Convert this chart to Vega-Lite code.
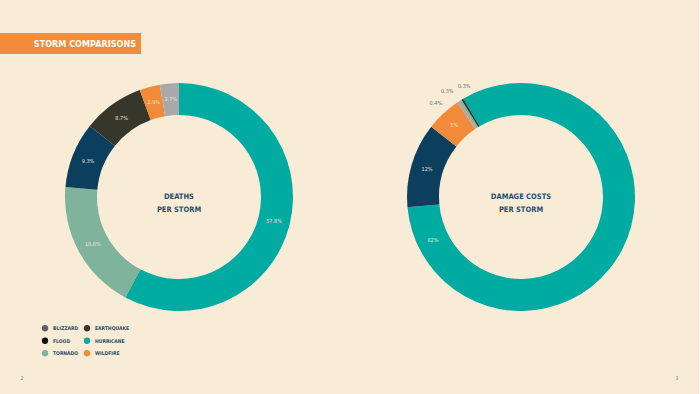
{
  "$schema": "https://vega.github.io/schema/vega-lite/v6.json",
  "background": "#f8ecd6",
  "padding": {"left": 0, "top": 33, "right": 0, "bottom": 0},
  "spacing": 23,
  "config": {
    "view": {"stroke": null},
    "font": "DejaVu Sans Condensed, sans-serif"
  },
  "datasets": {
    "deaths": [
      {"storm": "HURRICANE", "value": 57.8, "label": "57.8%"},
      {"storm": "TORNADO", "value": 18.6, "label": "18.6%"},
      {"storm": "FLOOD", "value": 9.3, "label": "9.3%"},
      {"storm": "EARTHQUAKE", "value": 8.7, "label": "8.7%"},
      {"storm": "WILDFIRE", "value": 2.9, "label": "2.9%"},
      {"storm": "BLIZZARD", "value": 2.7, "label": "2.7%"}
    ],
    "damage": [
      {"storm": "HURRICANE", "value": 82, "label": "82%"},
      {"storm": "FLOOD", "value": 12, "label": "12%"},
      {"storm": "WILDFIRE", "value": 5, "label": "5%"},
      {"storm": "BLIZZARD", "value": 0.4, "label": "0.4%"},
      {"storm": "TORNADO", "value": 0.3, "label": "0.3%"},
      {"storm": "EARTHQUAKE", "value": 0.3, "label": "0.3%"}
    ],
    "legendItems": [
      {"storm": "BLIZZARD", "column": "left"},
      {"storm": "EARTHQUAKE", "column": "right"},
      {"storm": "FLOOD", "column": "left"},
      {"storm": "HURRICANE", "column": "right"},
      {"storm": "TORNADO", "column": "left"},
      {"storm": "WILDFIRE", "column": "right"}
    ]
  },
  "vconcat": [
    {
      "width": 141,
      "height": 21,
      "view": {"fill": "#f28c38", "stroke": null},
      "data": {"values": [{"t": "STORM COMPARISONS"}]},
      "mark": {"type": "text", "align": "right", "baseline": "middle", "dx": -5, "fontSize": 9, "fontWeight": "bold", "color": "#ffffff"},
      "encoding": {
        "x": {"datum": 1, "type": "quantitative", "scale": {"domain": [0, 1], "nice": false}, "axis": null},
        "text": {"field": "t"}
      }
    },
    {
      "spacing": 15,
      "vconcat": [
        {
          "hconcat": [
            {
              "vconcat": [
                {
                  "width": 358,
                  "height": 240,
                  "data": {"name": "deaths"},
                  "layer": [
                    {
                      "mark": {"type": "arc", "innerRadius": 82, "outerRadius": 114},
                      "encoding": {
                        "theta": {"field": "value", "type": "quantitative", "stack": true},
                        "order": {"field": "value", "sort": "descending"},
                        "color": {
                          "field": "storm", "type": "nominal",
                          "scale": {
                            "domain": ["BLIZZARD", "EARTHQUAKE", "FLOOD", "HURRICANE", "TORNADO", "WILDFIRE"],
                            "range": ["#a9a9ab", "#37362b", "#0c3e5d", "#00aba2", "#80b39b", "#f28b39"]
                          },
                          "legend": null
                        }
                      }
                    },
                    {
                      "mark": {"type": "text", "radius": 98, "fontSize": 5.5, "color": "#efe6cf", "baseline": "middle"},
                      "encoding": {
                        "theta": {"field": "value", "type": "quantitative", "stack": true},
                        "order": {"field": "value", "sort": "descending"},
                        "text": {"field": "label"}
                      }
                    },
                    {
                      "data": {"values": [{"c": "DEATHS\nPER STORM"}]},
                      "mark": {"type": "text", "lineBreak": "\n", "lineHeight": 13, "fontSize": 7.5, "fontWeight": "bold", "color": "#1d4f6e", "baseline": "middle"},
                      "encoding": {"text": {"field": "c"}}
                    }
                  ]
                },
                {
                  "hconcat": [
                    {
                      "width": 40.5,
                      "height": 37.5,
                      "data": {"values": [{"t": ""}]},
                      "mark": {"type": "text"},
                      "encoding": {"text": {"field": "t"}}
                    },
                    {
                      "width": 37.5,
                      "height": 37.5,
                      "data": {"name": "legendItems"},
                      "transform": [{"filter": "datum.column === 'left'"}],
                      "layer": [
                        {
                          "mark": {"type": "point", "filled": true, "size": 40, "opacity": 1, "strokeWidth": 0},
                          "encoding": {
                            "x": {"datum": 0, "type": "quantitative", "scale": {"domain": [0, 1], "nice": false}, "axis": null},
                            "y": {"field": "storm", "type": "ordinal", "scale": {"paddingInner": 0, "paddingOuter": 0}, "axis": null},
                            "fill": {
                              "field": "storm", "type": "nominal",
                              "scale": {
                                "domain": ["BLIZZARD", "EARTHQUAKE", "FLOOD", "HURRICANE", "TORNADO", "WILDFIRE"],
                                "range": ["#606166", "#37362b", "#0a0a0a", "#00aba2", "#80b39b", "#f28b39"]
                              },
                              "legend": null
                            }
                          }
                        },
                        {
                          "mark": {"type": "text", "align": "left", "baseline": "middle", "dx": 8, "fontSize": 5, "fontWeight": "bold", "color": "#2a4f66"},
                          "encoding": {
                            "x": {"datum": 0, "type": "quantitative", "scale": {"domain": [0, 1], "nice": false}, "axis": null},
                            "y": {"field": "storm", "type": "ordinal", "scale": {"paddingInner": 0, "paddingOuter": 0}, "axis": null},
                            "text": {"field": "storm"}
                          }
                        }
                      ]
                    },
                    {
                      "width": 43,
                      "height": 37.5,
                      "data": {"name": "legendItems"},
                      "transform": [{"filter": "datum.column === 'right'"}],
                      "layer": [
                        {
                          "mark": {"type": "point", "filled": true, "size": 40, "opacity": 1, "strokeWidth": 0},
                          "encoding": {
                            "x": {"datum": 0, "type": "quantitative", "scale": {"domain": [0, 1], "nice": false}, "axis": null},
                            "y": {"field": "storm", "type": "ordinal", "scale": {"paddingInner": 0, "paddingOuter": 0}, "axis": null},
                            "fill": {
                              "field": "storm", "type": "nominal",
                              "scale": {
                                "domain": ["BLIZZARD", "EARTHQUAKE", "FLOOD", "HURRICANE", "TORNADO", "WILDFIRE"],
                                "range": ["#606166", "#37362b", "#0a0a0a", "#00aba2", "#80b39b", "#f28b39"]
                              },
                              "legend": null
                            }
                          }
                        },
                        {
                          "mark": {"type": "text", "align": "left", "baseline": "middle", "dx": 8, "fontSize": 5, "fontWeight": "bold", "color": "#2a4f66"},
                          "encoding": {
                            "x": {"datum": 0, "type": "quantitative", "scale": {"domain": [0, 1], "nice": false}, "axis": null},
                            "y": {"field": "storm", "type": "ordinal", "scale": {"paddingInner": 0, "paddingOuter": 0}, "axis": null},
                            "text": {"field": "storm"}
                          }
                        }
                      ]
                    }
                  ],
                  "spacing": 0
                }
              ],
              "spacing": 5
            },
            {
              "width": 326,
              "height": 240,
              "data": {"name": "damage"},
              "resolve": {"scale": {"theta": "independent"}},
              "layer": [
                {
                  "layer": [
                    {
                      "mark": {"type": "arc", "innerRadius": 82, "outerRadius": 114},
                      "encoding": {
                        "theta": {"field": "value", "type": "quantitative", "stack": true, "scale": {"range": [-0.53, 5.7532]}},
                        "order": {"field": "value", "sort": "descending"},
                        "color": {
                          "field": "storm", "type": "nominal",
                          "scale": {
                            "domain": ["BLIZZARD", "EARTHQUAKE", "FLOOD", "HURRICANE", "TORNADO", "WILDFIRE"],
                            "range": ["#a9a9ab", "#37362b", "#0c3e5d", "#00aba2", "#80b39b", "#f28b39"]
                          },
                          "legend": null
                        }
                      }
                    },
                    {
                      "mark": {"type": "text", "radius": 98, "fontSize": 5.5, "color": "#efe6cf", "baseline": "middle"},
                      "encoding": {
                        "theta": {"field": "value", "type": "quantitative", "stack": true, "scale": {"range": [-0.53, 5.7532]}},
                        "order": {"field": "value", "sort": "descending"},
                        "text": {"condition": {"test": "datum.storm === 'FLOOD' || datum.storm === 'WILDFIRE'", "field": "label"}, "value": ""}
                      }
                    },
                    {
                      "mark": {"type": "text", "radius": 128, "fontSize": 5.5, "color": "#6b6b6b", "baseline": "middle", "dx": -15, "dy": 13},
                      "encoding": {
                        "theta": {"field": "value", "type": "quantitative", "stack": true, "scale": {"range": [-0.53, 5.7532]}},
                        "order": {"field": "value", "sort": "descending"},
                        "text": {"condition": {"test": "datum.storm === 'BLIZZARD'", "field": "label"}, "value": ""}
                      }
                    },
                    {
                      "mark": {"type": "text", "radius": 128, "fontSize": 5.5, "color": "#6b6b6b", "baseline": "middle", "dx": -6, "dy": 3},
                      "encoding": {
                        "theta": {"field": "value", "type": "quantitative", "stack": true, "scale": {"range": [-0.53, 5.7532]}},
                        "order": {"field": "value", "sort": "descending"},
                        "text": {"condition": {"test": "datum.storm === 'TORNADO'", "field": "label"}, "value": ""}
                      }
                    },
                    {
                      "mark": {"type": "text", "radius": 128, "fontSize": 5.5, "color": "#6b6b6b", "baseline": "middle", "dx": 9, "dy": -1},
                      "encoding": {
                        "theta": {"field": "value", "type": "quantitative", "stack": true, "scale": {"range": [-0.53, 5.7532]}},
                        "order": {"field": "value", "sort": "descending"},
                        "text": {"condition": {"test": "datum.storm === 'EARTHQUAKE'", "field": "label"}, "value": ""}
                      }
                    }
                  ]
                },
                {
                  "mark": {"type": "text", "radius": 98, "fontSize": 5.5, "color": "#efe6cf", "baseline": "middle"},
                  "encoding": {
                    "theta": {"field": "value", "type": "quantitative", "stack": true, "scale": {"range": [1.6825, 7.9657]}},
                    "order": {"field": "value", "sort": "descending"},
                    "text": {"condition": {"test": "datum.storm === 'HURRICANE'", "field": "label"}, "value": ""}
                  }
                },
                {
                  "data": {"values": [{"c": "DAMAGE COSTS\nPER STORM"}]},
                  "mark": {"type": "text", "lineBreak": "\n", "lineHeight": 13, "fontSize": 7.5, "fontWeight": "bold", "color": "#1d4f6e", "baseline": "middle"},
                  "encoding": {"text": {"field": "c"}}
                }
              ]
            }
          ],
          "spacing": 0
        },
        {
          "width": 699,
          "height": 11.5,
          "data": {"values": [{"page": "2"}, {"page": "3"}]},
          "mark": {"type": "text", "fontSize": 5, "dy": -18, "color": "#5b7f8f", "baseline": "middle"},
          "encoding": {
            "x": {"field": "page", "type": "ordinal", "scale": {"type": "point", "padding": 0.0336}, "axis": null},
            "text": {"field": "page"}
          }
        }
      ]
    }
  ]
}
